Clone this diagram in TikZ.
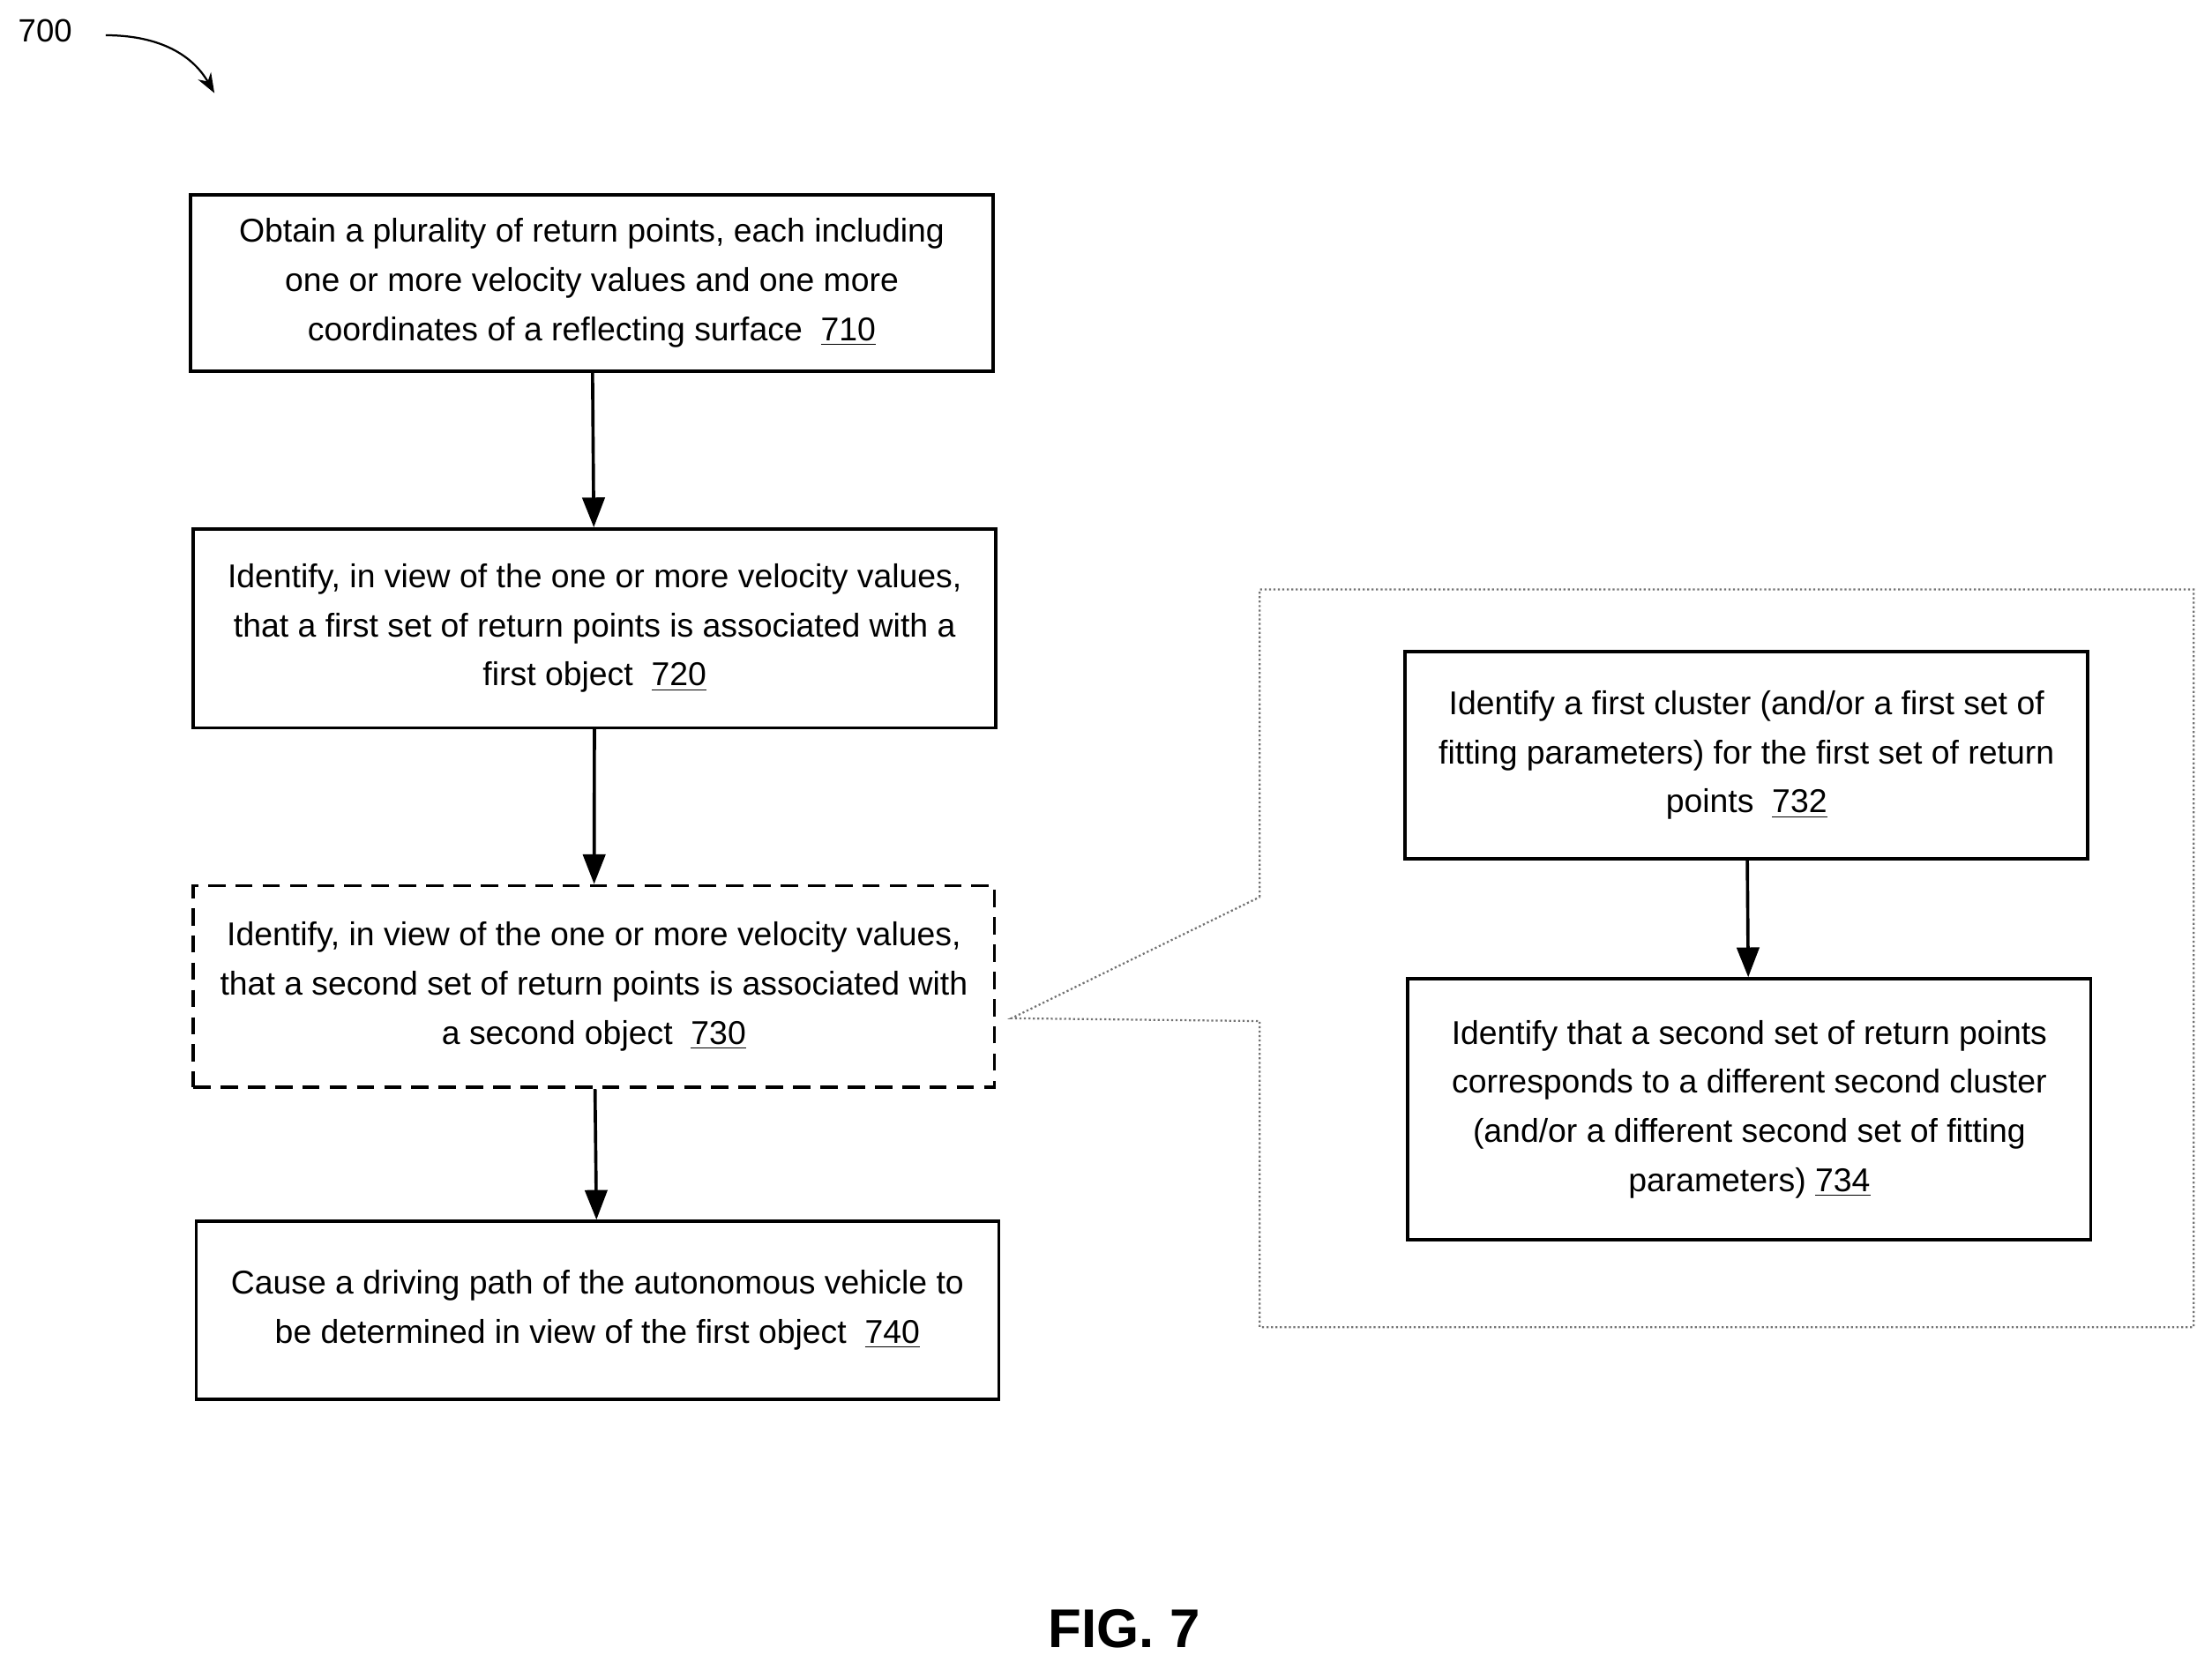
\documentclass[tikz,border=0pt]{standalone}
\usepackage{fontspec}
\setmainfont{Liberation Sans}
\usetikzlibrary{arrows.meta,positioning}
\tikzset{
  block/.style={rectangle, draw, line width=1.3pt, align=center, inner sep=2pt,
    font=\fontsize{13.3}{19.8}\selectfont},
  flow/.style={-{Triangle[length=12pt,width=9pt]}, line width=1.3pt},
}
\newcommand{\refnum}[1]{\underline{#1}}
\begin{document}
\begin{tikzpicture}[x=0.02cm, y=-0.02cm]
\useasboundingbox (0,0) rectangle (1568,1184);
% label and pointer
\node[font=\fontsize{13}{15}\selectfont] (fig) at (32,22) {700};
\coordinate (tip) at (152,66);
\draw[-{Stealth[length=8pt]}, line width=0.8pt] (75,25) to[out=0, in=120] (tip);
% main flow
\node[block, minimum width=569*0.02cm, minimum height=125*0.02cm] (s710) at (419.5,200.5)
  {Obtain a plurality of return points, each including\\one or more velocity values and one more\\coordinates of a reflecting surface\ \ \refnum{710}};
\node[block, minimum width=569*0.02cm, minimum height=141*0.02cm] (s720) at (421.5,445.5)
  {Identify, in view of the one or more velocity values,\\that a first set of return points is associated with a\\first object\ \ \refnum{720}};
\node[block, dashed, dash pattern=on 7pt off 4pt, minimum width=568*0.02cm, minimum height=143*0.02cm] (s730) at (421,699.5)
  {Identify, in view of the one or more velocity values,\\that a second set of return points is associated with\\a second object\ \ \refnum{730}};
\node[block, minimum width=569*0.02cm, minimum height=126*0.02cm] (s740) at (423.5,929)
  {Cause a driving path of the autonomous vehicle to\\be determined in view of the first object\ \ \refnum{740}};
\draw[flow] (s710) -- (s720);
\draw[flow] (s720) -- (s730);
\draw[flow] (s730) -- (s740);
% detail of 730
\draw[black!55, densely dotted, line width=0.8pt] (893,636) -- (893,418) -- (1555,418) -- (1555,941)
  -- (893,941) -- (893,724) -- (717,722) -- (893,636);
\node[block, minimum width=484*0.02cm, minimum height=147*0.02cm] (s732) at (1238,535.5)
  {Identify a first cluster (and/or a first set of\\fitting parameters) for the first set of return\\points\ \ \refnum{732}};
\node[block, minimum width=484*0.02cm, minimum height=185*0.02cm] (s734) at (1240,786.5)
  {Identify that a second set of return points\\corresponds to a different second cluster\\(and/or a different second set of fitting\\parameters) \refnum{734}};
\draw[flow] (s732) -- (s734);
\node[font=\bfseries\fontsize{22}{26}\selectfont] (cap) at (797,1155) {FIG. 7};
\end{tikzpicture}
\end{document}
